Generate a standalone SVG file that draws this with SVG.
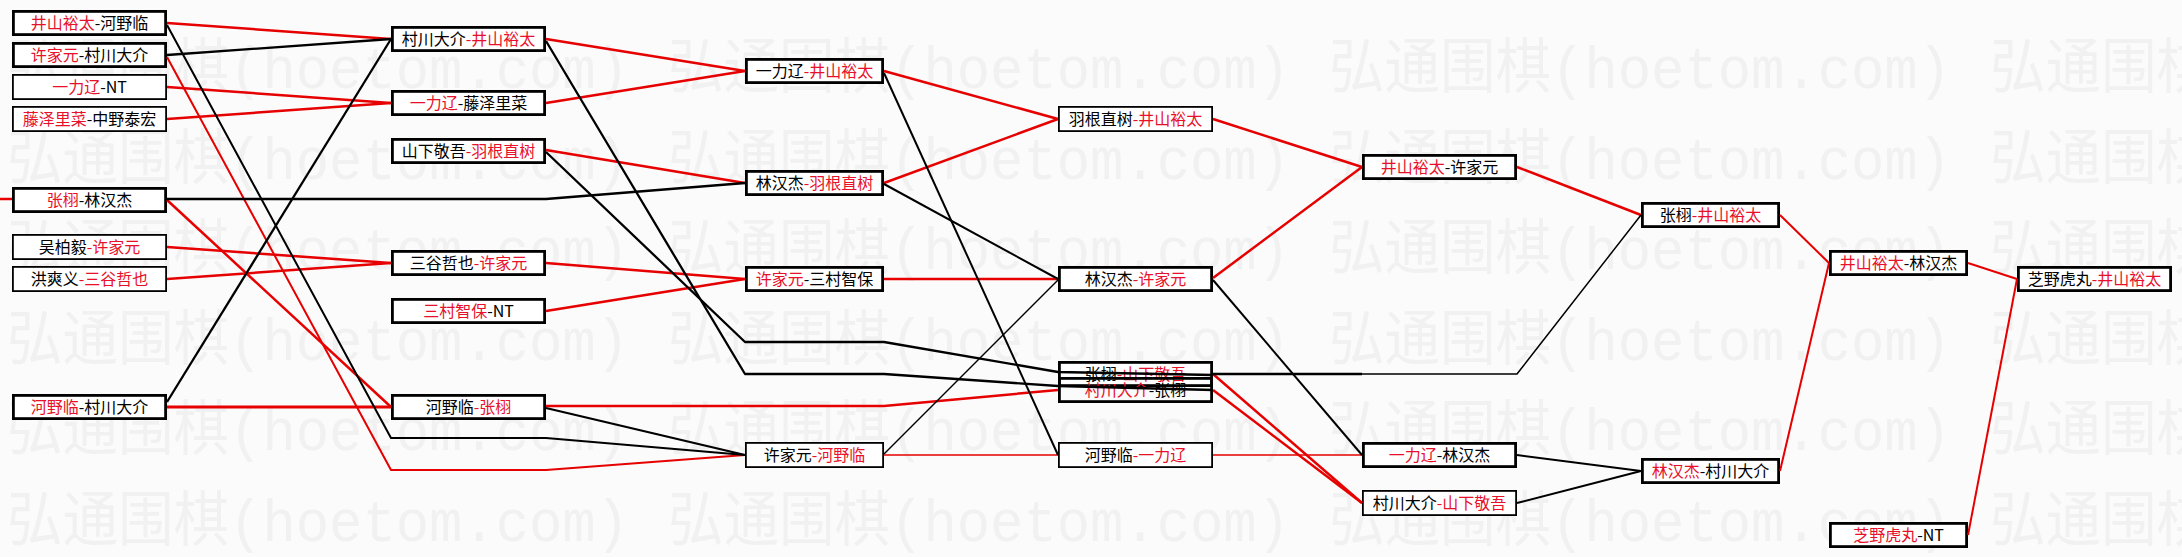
<svg xmlns="http://www.w3.org/2000/svg" width="2182" height="557" viewBox="0 0 2182 557">
<style>
.bg{fill:#fbfbfb}
.wm{font-family:"Liberation Mono","Noto Sans CJK SC",monospace;font-size:60px;fill:#f1f1f1}
.box{fill:#fff;stroke:#000;stroke-width:2.8}
.box.t{stroke-width:1.8}
.box.n{fill:none}
.lbl{font-family:"Noto Sans CJK SC","Noto Sans CJK JP",sans-serif;font-size:16px;text-anchor:middle;fill:#000}
.r{fill:#e8102a}
.cr{stroke:#e60000;fill:none;stroke-width:2.5;stroke-linejoin:round}
.ck{stroke:#000;fill:none;stroke-width:2.3;stroke-linejoin:round}
.w1{stroke-width:1.5}
.w2{stroke-width:2}
.w3{stroke-width:3}
</style>
<rect class="bg" x="0" y="0" width="2182" height="557"/>
<g id="watermark">
<text class="wm" x="7" y="88" textLength="622" lengthAdjust="spacingAndGlyphs">弘通围棋(hoetom.com)</text>
<text class="wm" x="668" y="88" textLength="622" lengthAdjust="spacingAndGlyphs">弘通围棋(hoetom.com)</text>
<text class="wm" x="1329" y="88" textLength="622" lengthAdjust="spacingAndGlyphs">弘通围棋(hoetom.com)</text>
<text class="wm" x="1990" y="88" textLength="622" lengthAdjust="spacingAndGlyphs">弘通围棋(hoetom.com)</text>
<text class="wm" x="7" y="179" textLength="622" lengthAdjust="spacingAndGlyphs">弘通围棋(hoetom.com)</text>
<text class="wm" x="668" y="179" textLength="622" lengthAdjust="spacingAndGlyphs">弘通围棋(hoetom.com)</text>
<text class="wm" x="1329" y="179" textLength="622" lengthAdjust="spacingAndGlyphs">弘通围棋(hoetom.com)</text>
<text class="wm" x="1990" y="179" textLength="622" lengthAdjust="spacingAndGlyphs">弘通围棋(hoetom.com)</text>
<text class="wm" x="7" y="269" textLength="622" lengthAdjust="spacingAndGlyphs">弘通围棋(hoetom.com)</text>
<text class="wm" x="668" y="269" textLength="622" lengthAdjust="spacingAndGlyphs">弘通围棋(hoetom.com)</text>
<text class="wm" x="1329" y="269" textLength="622" lengthAdjust="spacingAndGlyphs">弘通围棋(hoetom.com)</text>
<text class="wm" x="1990" y="269" textLength="622" lengthAdjust="spacingAndGlyphs">弘通围棋(hoetom.com)</text>
<text class="wm" x="7" y="360" textLength="622" lengthAdjust="spacingAndGlyphs">弘通围棋(hoetom.com)</text>
<text class="wm" x="668" y="360" textLength="622" lengthAdjust="spacingAndGlyphs">弘通围棋(hoetom.com)</text>
<text class="wm" x="1329" y="360" textLength="622" lengthAdjust="spacingAndGlyphs">弘通围棋(hoetom.com)</text>
<text class="wm" x="1990" y="360" textLength="622" lengthAdjust="spacingAndGlyphs">弘通围棋(hoetom.com)</text>
<text class="wm" x="7" y="450" textLength="622" lengthAdjust="spacingAndGlyphs">弘通围棋(hoetom.com)</text>
<text class="wm" x="668" y="450" textLength="622" lengthAdjust="spacingAndGlyphs">弘通围棋(hoetom.com)</text>
<text class="wm" x="1329" y="450" textLength="622" lengthAdjust="spacingAndGlyphs">弘通围棋(hoetom.com)</text>
<text class="wm" x="1990" y="450" textLength="622" lengthAdjust="spacingAndGlyphs">弘通围棋(hoetom.com)</text>
<text class="wm" x="7" y="541" textLength="622" lengthAdjust="spacingAndGlyphs">弘通围棋(hoetom.com)</text>
<text class="wm" x="668" y="541" textLength="622" lengthAdjust="spacingAndGlyphs">弘通围棋(hoetom.com)</text>
<text class="wm" x="1329" y="541" textLength="622" lengthAdjust="spacingAndGlyphs">弘通围棋(hoetom.com)</text>
<text class="wm" x="1990" y="541" textLength="622" lengthAdjust="spacingAndGlyphs">弘通围棋(hoetom.com)</text>
</g>
<g id="nodes">
<g id="a1"><rect class="box" x="13.4" y="11.4" width="152.2" height="23.2"/><text class="lbl" x="89.5" y="29"><tspan class="r">井山裕太</tspan>-河野临</text></g>
<g id="a2"><rect class="box" x="13.4" y="43.4" width="152.2" height="23.2"/><text class="lbl" x="89.5" y="61"><tspan class="r">许家元</tspan>-村川大介</text></g>
<g id="a3"><rect class="box t" x="12.9" y="74.9" width="153.2" height="24.2"/><text class="lbl" x="89.5" y="93"><tspan class="r">一力辽</tspan>-NT</text></g>
<g id="a4"><rect class="box t" x="12.9" y="106.9" width="153.2" height="24.2"/><text class="lbl" x="89.5" y="125"><tspan class="r">藤泽里菜</tspan>-中野泰宏</text></g>
<g id="a5"><rect class="box" x="13.4" y="188.4" width="152.2" height="23.2"/><text class="lbl" x="89.5" y="206"><tspan class="r">张栩</tspan>-林汉杰</text></g>
<g id="a6"><rect class="box t" x="12.9" y="234.9" width="153.2" height="24.2"/><text class="lbl" x="89.5" y="253">吴柏毅<tspan class="r">-许家元</tspan></text></g>
<g id="a7"><rect class="box t" x="12.9" y="266.9" width="153.2" height="24.2"/><text class="lbl" x="89.5" y="285">洪爽义<tspan class="r">-三谷哲也</tspan></text></g>
<g id="a8"><rect class="box" x="13.4" y="395.4" width="152.2" height="23.2"/><text class="lbl" x="89.5" y="413"><tspan class="r">河野临</tspan>-村川大介</text></g>

<g id="b1"><rect class="box" x="392.4" y="27.4" width="152.2" height="23.2"/><text class="lbl" x="468.5" y="45">村川大介<tspan class="r">-井山裕太</tspan></text></g>
<g id="b2"><rect class="box" x="392.4" y="91.4" width="152.2" height="23.2"/><text class="lbl" x="468.5" y="109"><tspan class="r">一力辽</tspan>-藤泽里菜</text></g>
<g id="b3"><rect class="box" x="392.4" y="139.4" width="152.2" height="23.2"/><text class="lbl" x="468.5" y="157">山下敬吾<tspan class="r">-羽根直树</tspan></text></g>
<g id="b4"><rect class="box" x="392.4" y="251.4" width="152.2" height="23.2"/><text class="lbl" x="468.5" y="269">三谷哲也<tspan class="r">-许家元</tspan></text></g>
<g id="b5"><rect class="box" x="392.4" y="299.4" width="152.2" height="23.2"/><text class="lbl" x="468.5" y="317"><tspan class="r">三村智保</tspan>-NT</text></g>
<g id="b6"><rect class="box" x="392.4" y="395.4" width="152.2" height="23.2"/><text class="lbl" x="468.5" y="413">河野临<tspan class="r">-张栩</tspan></text></g>

<g id="c1"><rect class="box" x="746.4" y="59.4" width="136.2" height="23.2"/><text class="lbl" x="814.5" y="77">一力辽<tspan class="r">-井山裕太</tspan></text></g>
<g id="c2"><rect class="box" x="746.4" y="171.4" width="136.2" height="23.2"/><text class="lbl" x="814.5" y="189">林汉杰<tspan class="r">-羽根直树</tspan></text></g>
<g id="c3"><rect class="box" x="746.4" y="267.4" width="136.2" height="23.2"/><text class="lbl" x="814.5" y="285"><tspan class="r">许家元</tspan>-三村智保</text></g>
<g id="c4"><rect class="box t" x="745.9" y="442.9" width="137.2" height="24.2"/><text class="lbl" x="814.5" y="461">许家元<tspan class="r">-河野临</tspan></text></g>

<g id="d1"><rect class="box t" x="1058.9" y="106.9" width="153.2" height="24.2"/><text class="lbl" x="1135.5" y="125">羽根直树<tspan class="r">-井山裕太</tspan></text></g>
<g id="d2"><rect class="box" x="1059.4" y="267.4" width="152.2" height="23.2"/><text class="lbl" x="1135.5" y="285">林汉杰<tspan class="r">-许家元</tspan></text></g>
<g id="d3"><rect class="box" x="1059.4" y="362.4" width="152.2" height="23.2"/><text class="lbl" x="1135.5" y="380">张栩<tspan class="r">-山下敬吾</tspan></text></g>
<g id="d4"><rect class="box n" x="1059.4" y="378.4" width="152.2" height="23.2"/><text class="lbl" x="1135.5" y="396"><tspan class="r">村川大介</tspan>-张栩</text></g>
<g id="d5"><rect class="box t" x="1058.9" y="442.9" width="153.2" height="24.2"/><text class="lbl" x="1135.5" y="461">河野临<tspan class="r">-一力辽</tspan></text></g>

<g id="e1"><rect class="box" x="1363.4" y="155.4" width="152.2" height="23.2"/><text class="lbl" x="1439.5" y="173"><tspan class="r">井山裕太</tspan>-许家元</text></g>
<g id="e2"><rect class="box" x="1363.4" y="443.4" width="152.2" height="23.2"/><text class="lbl" x="1439.5" y="461"><tspan class="r">一力辽</tspan>-林汉杰</text></g>
<g id="e3"><rect class="box t" x="1362.9" y="490.9" width="153.2" height="24.2"/><text class="lbl" x="1439.5" y="509">村川大介<tspan class="r">-山下敬吾</tspan></text></g>

<g id="f1"><rect class="box" x="1642.4" y="203.4" width="136.2" height="23.2"/><text class="lbl" x="1710.5" y="221">张栩<tspan class="r">-井山裕太</tspan></text></g>
<g id="f2"><rect class="box" x="1642.4" y="459.4" width="136.2" height="23.2"/><text class="lbl" x="1710.5" y="477"><tspan class="r">林汉杰</tspan>-村川大介</text></g>

<g id="g1"><rect class="box" x="1830.4" y="251.4" width="136.2" height="23.2"/><text class="lbl" x="1898.5" y="269"><tspan class="r">井山裕太</tspan>-林汉杰</text></g>
<g id="g2"><rect class="box" x="1830.4" y="523.4" width="136.2" height="23.2"/><text class="lbl" x="1898.5" y="541"><tspan class="r">芝野虎丸</tspan>-NT</text></g>

<g id="h1"><rect class="box" x="2018.4" y="267.4" width="152.2" height="23.2"/><text class="lbl" x="2094.5" y="285">芝野虎丸<tspan class="r">-井山裕太</tspan></text></g>
</g>
<g id="connectors">
<path class="cr" d="M167,23 L391,39"/>
<path class="cr w2" d="M167,57 L391,470 L546,470 L745,455"/>
<path class="cr" d="M167,87 L391,103"/>
<path class="cr" d="M167,119 L391,103"/>
<path class="cr" d="M167,200 L391,407"/>
<path class="cr" d="M167,247 L391,263"/>
<path class="cr" d="M167,279 L391,263"/>
<path class="cr w3" d="M167,407 L391,407"/>
<path class="cr" d="M0,199 L12,199"/>
<path class="cr" d="M546,39 L745,71"/>
<path class="cr" d="M546,103 L745,71"/>
<path class="cr" d="M546,150 L745,183"/>
<path class="cr" d="M546,263 L745,279"/>
<path class="cr" d="M546,311 L745,279"/>
<path class="cr" d="M546,406 L884,406 L1058,390"/>
<path class="cr" d="M884,71 L1058,119"/>
<path class="cr" d="M884,183 L1058,119"/>
<path class="cr" d="M884,279 L1058,279"/>
<path class="cr w1" d="M884,455 L1058,455"/>
<path class="cr" d="M1213,119 L1362,167"/>
<path class="cr" d="M1213,278 L1362,167"/>
<path class="cr w1" d="M1213,455 L1362,455"/>
<path class="cr" d="M1213,374 L1362,503"/>
<path class="cr" d="M1213,390 L1362,503"/>
<path class="cr" d="M1517,167 L1641,215"/>
<path class="cr w2" d="M1780,215 L1829,263"/>
<path class="cr w2" d="M1780,471 L1829,263"/>
<path class="cr w2" d="M1968,263 L2017,279"/>
<path class="cr w2" d="M1968,535 L2017,279"/>

<path class="ck w2" d="M167,25 L391,438 L546,438 L745,455"/>
<path class="ck" d="M167,55 L391,39"/>
<path class="ck" d="M167,199 L546,199 L745,183"/>
<path class="ck" d="M167,402 L391,39"/>
<path class="ck" d="M546,41 L745,374 L884,374 L1058,386 L1213,390"/>
<path class="ck" d="M546,152 L745,342 L884,342 L1058,372 L1213,375"/>
<path class="ck" d="M546,408 L745,455"/>
<path class="ck w2" d="M884,73 L1058,455"/>
<path class="ck w2" d="M884,184 L1058,279"/>
<path class="ck w1" d="M884,454 L1058,280"/>
<path class="ck w2" d="M1213,280 L1362,455"/>
<path class="ck w1" d="M1213,374 L1517,374 L1641,215"/>
<path class="ck" d="M1213,374 L1362,374"/>
<path class="ck w2" d="M1517,455 L1641,471"/>
<path class="ck w2" d="M1517,503 L1641,471"/>
</g>
</svg>
